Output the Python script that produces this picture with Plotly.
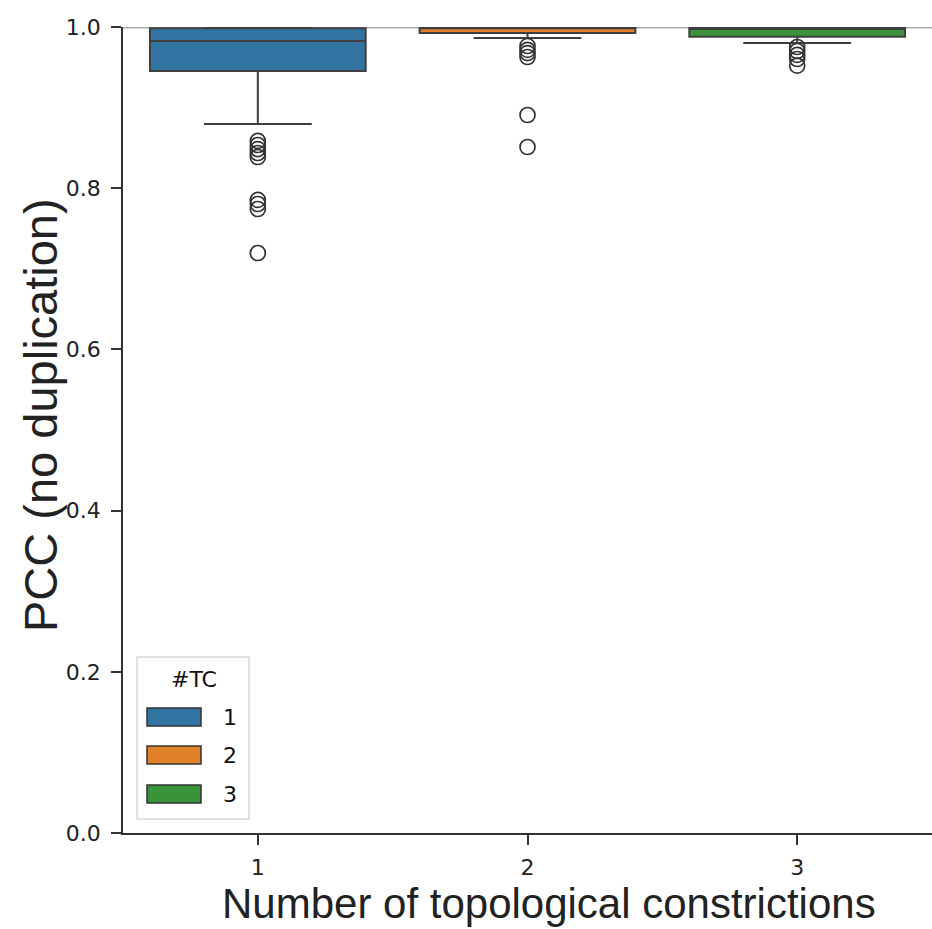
import plotly.graph_objects as go

# Box statistics of PCC per number of topological constrictions
categories = ["1", "2", "3"]
q1_vals = [0.9455, 0.9925, 0.9880]
median_vals = [0.9826, 0.9985, 0.9975]
q3_vals = [0.9985, 1.0, 1.0]
lower_whisker = [0.8797, 0.9864, 0.9800]
upper_whisker = [1.0, 1.0, 1.0]

# Points beyond the whiskers
outliers_1 = [0.8586, 0.8536, 0.8486, 0.8437, 0.8387, 0.7854, 0.7804, 0.7742, 0.7196]
outliers_2 = [0.9764, 0.9715, 0.9677, 0.9628, 0.8908, 0.8511]
outliers_3 = [0.9752, 0.9702, 0.9653, 0.9603, 0.9520]
outliers = [outliers_1, outliers_2, outliers_3]

colors = ["#3274a1", "#e1812c", "#3a923a"]
edge = "#3f3f3f"

W, H = 932, 929
L, R, T, B = 123, 932, 27, 833  # plot area in pixels


def px_x(x):
    return (x - L) / (R - L)


def px_y(y):
    return (B - y) / (B - T)


fig = go.Figure()

for cat, c, lo, a, m, b, hi, out in zip(categories, colors, lower_whisker, q1_vals,
                                        median_vals, q3_vals, upper_whisker, outliers):
    fig.add_trace(go.Box(
        x=[cat], q1=[a], median=[m], q3=[b], lowerfence=[lo], upperfence=[hi],
        fillcolor=c, line=dict(color=edge, width=2), width=0.8, whiskerwidth=0.5,
        boxpoints=False, showlegend=False, hoverinfo="skip",
    ))
    fig.add_trace(go.Scatter(
        x=[cat] * len(out), y=out, mode="markers",
        marker=dict(symbol="circle-open", size=15, color="#333333", line=dict(width=1.7)),
        showlegend=False, cliponaxis=False,
    ))

shapes = [
    # reference line at PCC = 1
    dict(type="line", xref="paper", yref="y", x0=0, x1=1, y0=1.0, y1=1.0,
         line=dict(color="#a8a8a8", width=3), layer="below"),
    # legend frame
    dict(type="rect", xref="paper", yref="paper",
         x0=px_x(137), x1=px_x(249), y0=px_y(819), y1=px_y(657),
         line=dict(color="#d8d8d8", width=1.5), fillcolor="rgba(255,255,255,0.85)"),
]

annotations = []
patch_rows = [717, 755, 794]
for c, lab, yc in zip(colors, categories, patch_rows):
    shapes.append(dict(type="rect", xref="paper", yref="paper",
                       x0=px_x(147), x1=px_x(201), y0=px_y(yc + 9), y1=px_y(yc - 9),
                       line=dict(color="#333333", width=1.5), fillcolor=c))
    annotations.append(dict(text=lab, xref="paper", yref="paper", x=px_x(221), y=px_y(yc),
                            xanchor="left", yanchor="middle", showarrow=False,
                            font=dict(family="DejaVu Sans", size=22, color="#111111")))

annotations.append(dict(text="#TC", xref="paper", yref="paper", x=px_x(194), y=px_y(679),
                        xanchor="center", yanchor="middle", showarrow=False,
                        font=dict(family="DejaVu Sans", size=22, color="#111111")))

annotations.append(dict(text="Number of topological constrictions", xref="paper", yref="paper",
                        x=px_x(549), y=px_y(903), xanchor="center", yanchor="middle",
                        showarrow=False,
                        font=dict(family="Liberation Sans", size=42, color="#222222")))
annotations.append(dict(text="PCC (no duplication)", xref="paper", yref="paper",
                        x=px_x(40), y=px_y(415), xanchor="center", yanchor="middle",
                        textangle=-90, showarrow=False,
                        font=dict(family="Liberation Sans", size=47, color="#222222")))

fig.update_layout(
    width=W, height=H,
    margin=dict(l=L, r=W - R, t=T, b=H - B, pad=0),
    paper_bgcolor="white", plot_bgcolor="white",
    boxmode="overlay",
    shapes=shapes, annotations=annotations,
    font=dict(family="DejaVu Sans", size=22, color="#222222"),
)
fig.update_xaxes(
    type="category", categoryorder="array", categoryarray=categories,
    range=[-0.5, 2.5], showgrid=False, zeroline=False,
    showline=True, linecolor="#333333", linewidth=1.5,
    ticks="outside", ticklen=10, tickwidth=1.5, tickcolor="#333333",
    ticklabelstandoff=4,
    tickfont=dict(family="DejaVu Sans", size=22, color="#222222"),
)
fig.update_yaxes(
    range=[0, 1.0], tickvals=[0, 0.2, 0.4, 0.6, 0.8, 1.0], tickformat=".1f",
    showgrid=False, zeroline=False,
    showline=True, linecolor="#333333", linewidth=1.5,
    ticks="outside", ticklen=10, tickwidth=1.5, tickcolor="#333333",
    ticklabelstandoff=6,
    tickfont=dict(family="DejaVu Sans", size=22, color="#222222"),
)

fig.write_html("out.html")
